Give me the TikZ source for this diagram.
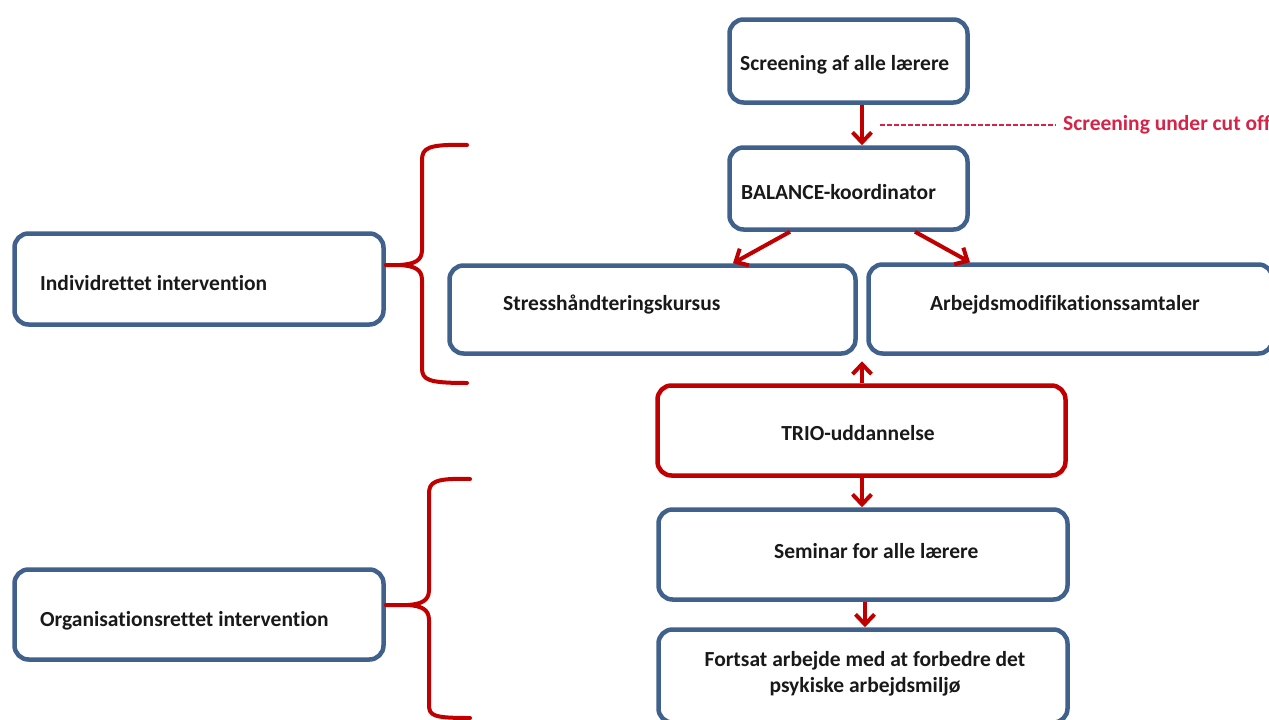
\documentclass[tikz,border=0pt]{standalone}
\usepackage{fontspec}
\setmainfont{Carlito}[Ligatures=NoCommon]
\usetikzlibrary{arrows.meta}
\definecolor{boxblue}{RGB}{64,97,140}
\definecolor{flowred}{RGB}{192,0,0}
\definecolor{notered}{RGB}{214,36,72}
\tikzset{
  box/.style={draw=boxblue, line width=4.5pt, rounded corners=14pt, fill=white,
    inner sep=0pt, minimum width=#1},
  trio/.style={draw=flowred, line width=4.5pt, rounded corners=14pt, fill=white,
    inner sep=0pt},
  lbl/.style={font=\bfseries\fontsize{21.5}{26}\selectfont, text=black!90, inner sep=0pt},
  flow/.style={draw=flowred, line width=4pt,
    -{Straight Barb[length=10pt,width=19pt,line width=4pt]}},
  brace/.style={draw=flowred, line width=4pt, line cap=round, line join=round},
  cutline/.style={draw=notered, line width=1.2pt, dash pattern=on 4.5pt off 2.5pt},
}
\begin{document}
\begin{tikzpicture}[x=1pt, y=-1pt]
\useasboundingbox (0,0) rectangle (1269,720);
\clip (0,0) rectangle (1269,720);
\fill[white] (0,0) rectangle (1269,720);

% column of steps
\node[box=238pt, minimum height=83pt] (scr) at (848.5,61) {};
\node[box=238pt, minimum height=82pt] (bal) at (848.5,188.5) {};
\node[box=406pt, minimum height=88pt] (str) at (652.5,309.5) {};
\node[box=404pt, minimum height=89pt] (arb) at (1070.5,309) {};
\node[trio, minimum width=408pt, minimum height=90pt] (tri) at (861.5,430.5) {};
\node[box=409pt, minimum height=90pt] (sem) at (863,554.5) {};
\node[box=409pt, minimum height=93pt] (fort) at (863,676) {};

% intervention groups on the left
\node[box=369pt, minimum height=91pt] (ind) at (199,279) {};
\node[box=369pt, minimum height=90pt] (org) at (199,614.5) {};

% texts
\node[lbl, anchor=west] (tscr) at (740,65) {Screening af alle lærere};
\node[lbl, anchor=west] (tbal) at (741,192) {BALANCE-koordinator};
\node[lbl, anchor=west] (tstr) at (503,305) {Stresshåndteringskursus};
\node[lbl, anchor=west] (tarb) at (930,305) {Arbejdsmodifikationssamtaler};
\node[lbl] (ttri) at (858,433) {TRIO-uddannelse};
\node[lbl, anchor=west] (tsem) at (774,551) {Seminar for alle lærere};
\node[lbl, align=center] (tfort) at (865,674) {Fortsat arbejde med at forbedre det\\psykiske arbejdsmiljø};
\node[lbl, anchor=west] (tind) at (40,283) {Individrettet intervention};
\node[lbl, anchor=west] (torg) at (40,621) {Organisationsrettet intervention};
\node[lbl, anchor=west, text=notered] (cut) at (1063,125) {Screening under cut off};

% arrow anchors
\coordinate (xa) at (862,0);
\coordinate (xb1) at (790,0);
\coordinate (xb2) at (733,0);
\coordinate (xc1) at (915,0);
\coordinate (xc2) at (970,0);
\coordinate (xd) at (865,0);
\coordinate (dl) at (880,125);

% arrows
\draw[flow] (scr.south -| xa) -- (bal.north -| xa);
\draw[cutline] (dl) -- ([xshift=-7pt]cut.west);
\draw[flow] (bal.south -| xb1) -- (str.north -| xb2);
\draw[flow] (bal.south -| xc1) -- (arb.north -| xc2);
\draw[flow] (tri.north -| xa) -- ++(0,-22);
\draw[flow] (tri.south -| xa) -- (sem.north -| xa);
\draw[flow] (sem.south -| xd) -- (fort.north -| xd);

% braces
\coordinate (b1) at (400,265);
\draw[brace] (467,145) .. controls (428,144) and (422,148) .. (422,160)
  -- (422,250) .. controls (422,261) and (414,264) .. (b1) -- (ind.east |- b1);
\draw[brace] (b1) .. controls (414,266) and (422,269) .. (422,280)
  -- (422,368) .. controls (422,380) and (428,383) .. (467,383);
\coordinate (b2) at (408,605);
\draw[brace] (470,479) .. controls (434,478) and (429,482) .. (429,494)
  -- (429,590) .. controls (429,601) and (421,604) .. (b2) -- (org.east |- b2);
\draw[brace] (b2) .. controls (421,606) and (429,609) .. (429,620)
  -- (429,705) .. controls (429,716) and (434,718) .. (470,718);
\end{tikzpicture}
\end{document}
